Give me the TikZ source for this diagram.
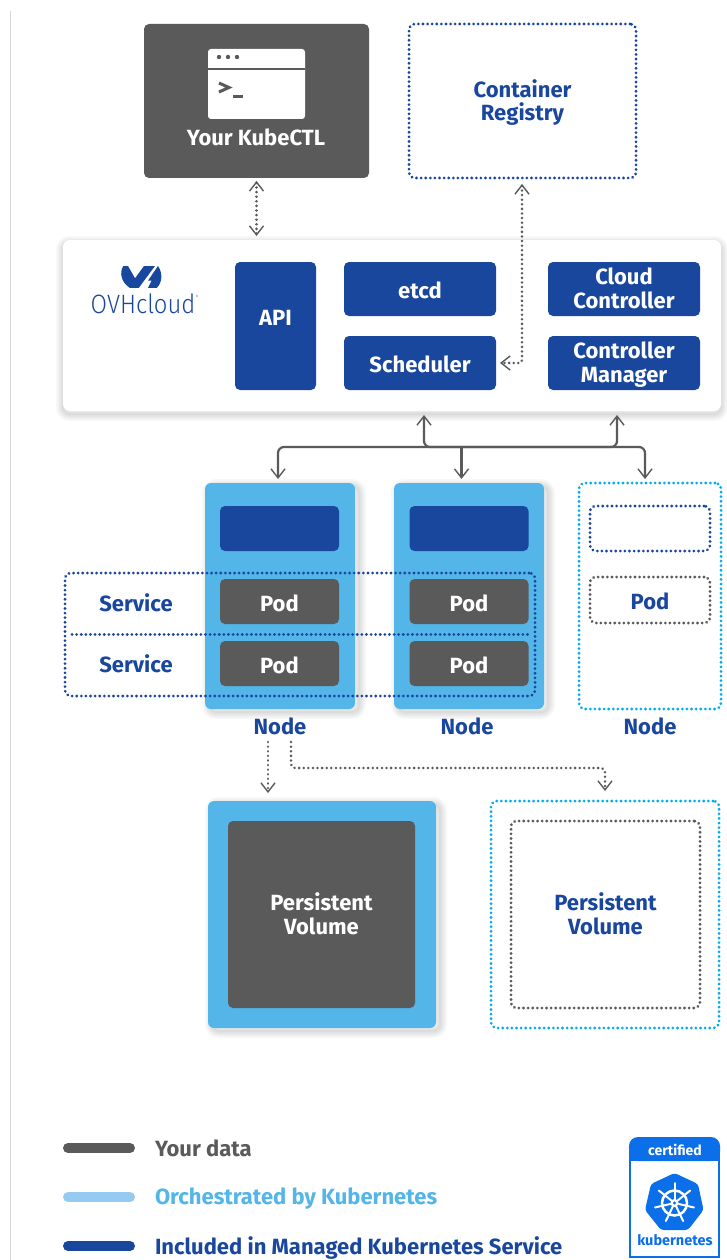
\documentclass[tikz,border=0pt]{standalone}
\usepackage{fontspec}
\setmainfont{Fira Sans}[BoldFont={Fira Sans Bold}]
\newfontfamily\ovhfont{Fira Sans Light}
\usetikzlibrary{arrows.meta, positioning}
\definecolor{ovhBlue}{RGB}{25, 71, 158}
\definecolor{ovhSky}{RGB}{83, 181, 232}
\definecolor{ovhPale}{RGB}{150, 202, 240}
\definecolor{ovhCyan}{RGB}{0, 174, 239}
\definecolor{ovhGray}{RGB}{90, 90, 90}
\definecolor{ovhRule}{RGB}{216, 216, 216}
\definecolor{kubeBlue}{RGB}{10, 111, 232}
\newcommand{\softshadow}[4]{%
    \foreach \w in {2,5,8,11,14} {
        \draw[black, opacity=0.028, line width=\w pt, rounded corners=7pt] (#1,#2) rectangle (#3,#4);
    }%
}

\begin{document}
\begin{tikzpicture}[
        x=1pt, y=-1pt,
        >={Straight Barb[length=9pt, width=14pt, line width=1.4pt]},
        every node/.style={inner sep=0pt, outer sep=0pt},
        label/.style={font=\fontsize{22}{23.5}\selectfont\bfseries, align=center},
        oneline/.style={text height=19.5pt},
        bluebox/.style={rectangle, fill=ovhBlue, text=white, rounded corners=5pt, label},
        graybox/.style={rectangle, fill=ovhGray, text=white, rounded corners=5pt, label},
        skybox/.style={rectangle, fill=ovhSky, rounded corners=6pt},
        dotbox/.style={rectangle, draw=#1, line width=3pt, line cap=round, dash pattern=on 0.1pt off 4.5pt, rounded corners=6pt, text=ovhBlue, label},
        dotline/.style={draw=ovhGray, line width=2.7pt, line cap=round, dash pattern=on 0.1pt off 4.5pt},
        legendbar/.style={line width=10pt, line cap=round}
    ]
        \useasboundingbox (0,0) rectangle (726,1260);
        \fill[white] (0,0) rectangle (726,1260);
        \draw[ovhRule, line width=1pt] (10.5,11) -- (10.5,1260);

        % Top row
        \node[graybox, minimum width=225pt, minimum height=154pt] (kubectl) at (256.5,101) {};
        \node[rectangle, fill=white, rounded corners=3pt, minimum width=97pt, minimum height=70pt] (term) at (256.5,84) {};
        \draw[ovhGray, line width=2pt] (term.west |- 0,69) -- (term.east |- 0,69);
        \foreach \i in {219,228,237} \fill[ovhGray] (\i,57) circle (2.2pt);
        \draw[ovhGray, line width=3pt] (219,83) -- (229,87.5) -- (219,92);
        \draw[ovhGray, line width=3pt] (233,97) -- (243,97);
        \node[label, text=white] (kubetext) at (256,137) {Your KubeCTL};
        \node[dotbox=ovhBlue, minimum width=227pt, minimum height=154pt] (registry) at (522.5,101) {};
        \node[label, text=ovhBlue] (registrytext) at (522.5,102.5) {Container\\Registry};

        % Control plane
        \softshadow{63}{243}{721}{414}
        \node[rectangle, fill=white, rounded corners=7pt, minimum width=658pt, minimum height=171pt] (plane) at (392,325.5) {};
        \node[bluebox, minimum width=81pt, minimum height=128pt] (api) at (275.5,326) {};
        \node[label, text=white] (apitext) at (275.5,318) {API};
        \node[bluebox, oneline, minimum width=152pt, minimum height=54pt] (etcd) at (420,289) {etcd};
        \node[bluebox, oneline, minimum width=152pt, minimum height=54pt, below=20pt of etcd] (sched) {Scheduler};
        \node[bluebox, minimum width=152pt, minimum height=54pt] (cloud) at (624,289) {};
        \node[bluebox, minimum width=152pt, minimum height=54pt, below=20pt of cloud] (manager) {};
        \node[label, text=white] (cloudtext) at (624,288.5) {Cloud\\Controller};
        \node[label, text=white] (managertext) at (624,364.5) {Controller\\Manager};

        % Logo
        \begin{scope}[shift={(118,262)}, x=0.3333pt, y=-0.3333pt]
            \fill[ovhBlue] (16,12) .. controls (4,30) and (8,60) .. (36,78) -- (62,78) -- (111,12) -- (78,12) -- (51,49) -- (30,12) -- cycle;
            \fill[ovhBlue] (120,12) .. controls (133,30) and (135,60) .. (116,78) -- (90,78) -- (101,56) -- (90,56) -- cycle;
        \end{scope}
        \node[font=\ovhfont\fontsize{26.5}{26.5}\selectfont, text=ovhBlue, xscale=0.9, transform shape] (ovhname) at (143,304) {OVHcloud};
        \node[font=\ovhfont\fontsize{4}{4}\selectfont, text=ovhBlue, right=0.5pt of ovhname.north east, yshift=-3pt] (ovhreg) {\textregistered};

        % Nodes
        \softshadow{209}{486}{359}{712}
        \node[skybox, minimum width=150pt, minimum height=226pt] (node1) at (280,596) {};
        \node[bluebox, minimum width=119pt, minimum height=45pt] (kubelet1) at (279.5,528.5) {};
        \node[graybox, oneline, minimum width=119pt, minimum height=45pt] (pod1a) at (279.5,601.5) {Pod};
        \node[graybox, oneline, minimum width=119pt, minimum height=45pt, below=17pt of pod1a] (pod1b) {Pod};
        \softshadow{398}{486}{548}{712}
        \node[skybox, minimum width=150pt, minimum height=226pt] (node2) at (469,596) {};
        \node[bluebox, minimum width=119pt, minimum height=45pt] (kubelet2) at (469,528.5) {};
        \node[graybox, oneline, minimum width=119pt, minimum height=45pt] (pod2a) at (469,601.5) {Pod};
        \node[graybox, oneline, minimum width=119pt, minimum height=45pt, below=17pt of pod2a] (pod2b) {Pod};
        \node[dotbox=ovhCyan, minimum width=142pt, minimum height=226pt] (node3) at (650,596) {};
        \node[dotbox=ovhBlue, minimum width=120pt, minimum height=45pt] (kubelet3) at (650,528.5) {};
        \node[dotbox=ovhGray, oneline, minimum width=120pt, minimum height=46pt] (pod3) at (650,600) {Pod};
        \node[label, text=ovhBlue] (name1) at (280,726) {Node};
        \node[label, text=ovhBlue] (name2) at (467,726) {Node};
        \node[label, text=ovhBlue] (name3) at (650,726) {Node};

        % Services
        \node[dotbox=ovhBlue, minimum width=470pt, minimum height=123pt] (services) at (300,634.5) {};
        \coordinate (divleft) at (72,634);
        \coordinate (divright) at (530,634);
        \draw[draw=ovhBlue, line width=3pt, line cap=round, dash pattern=on 0.1pt off 4.5pt] (divleft) -- (divright);
        \node[label, text=ovhBlue] (service1) at (136,603) {Service};
        \node[label, text=ovhBlue] (service2) at (136,664) {Service};

        % Volumes
        \softshadow{212}{804}{440}{1031}
        \node[skybox, minimum width=228pt, minimum height=227pt] (vol1) at (322,914.5) {};
        \node[graybox, minimum width=187pt, minimum height=187pt] (disk1) at (321.5,914.5) {};
        \node[label, text=white] (disk1text) at (321.5,914) {Persistent\\Volume};
        \node[dotbox=ovhCyan, minimum width=228pt, minimum height=227pt] (vol2) at (605,914.5) {};
        \node[dotbox=ovhGray, minimum width=189pt, minimum height=187pt] (disk2) at (605.5,914.5) {};
        \node[label, text=ovhBlue] (disk2text) at (605.5,914) {Persistent\\Volume};

        % Connectors
        \coordinate (kubeend) at (256.5,181);
        \coordinate (planeend) at (256.5,236);
        \draw[dotline, <->] (kubeend) -- (planeend);
        \coordinate (regend) at (522,184);
        \coordinate (schedend) at (500,363);
        \draw[dotline, <->, rounded corners=3pt] (regend) |- (schedend);
        \coordinate (upleft) at (424,415);
        \coordinate (upright) at (617,415);
        \coordinate (busleft) at (278,447);
        \coordinate (busright) at (645,447);
        \coordinate (busmid) at (461.5,447);
        \coordinate (downleft) at (278,479);
        \coordinate (downmid) at (461.5,479);
        \coordinate (downright) at (645,479);
        \draw[ovhGray, line width=2.2pt, ->, rounded corners=6pt] (busmid) -- (busleft) -- (downleft);
        \draw[ovhGray, line width=2.2pt, ->, rounded corners=6pt] (busmid) -- (busright) -- (downright);
        \draw[ovhGray, line width=2.2pt, ->] (busmid) -- (downmid);
        \draw[ovhGray, line width=2.2pt, <-, rounded corners=6pt] (upleft) |- (busmid);
        \draw[ovhGray, line width=2.2pt, <-, rounded corners=6pt] (upright) |- (busmid);
        \coordinate (volstart) at (268,742);
        \coordinate (volend) at (268,793);
        \draw[dotline, ->] (volstart) -- (volend);
        \coordinate (optstart) at (291,742);
        \coordinate (optend) at (605,791);
        \coordinate (optbend) at (291,768);
        \draw[dotline, ->, rounded corners=4pt] (optstart) -- (optbend) -| (optend);

        % Legend
        \coordinate (bar1a) at (68,1148);
        \coordinate (bar1b) at (130,1148);
        \coordinate (bar2a) at (68,1197);
        \coordinate (bar2b) at (130,1197);
        \coordinate (bar3a) at (68,1246);
        \coordinate (bar3b) at (130,1246);
        \draw[legendbar, ovhGray] (bar1a) -- (bar1b);
        \draw[legendbar, ovhPale] (bar2a) -- (bar2b);
        \draw[legendbar, ovhBlue] (bar3a) -- (bar3b);
        \node[label, text=ovhGray, anchor=west] (legend1) at (155,1148) {Your data};
        \node[label, text=ovhSky, anchor=west] (legend2) at (155,1198.5) {Orchestrated by Kubernetes};
        \node[label, text=ovhBlue, anchor=west] (legend3) at (155,1248.5) {Included in Managed Kubernetes Service};

        % Badge
        \fill[kubeBlue, rounded corners=9pt] (629,1161) -- (629,1137) -- (720,1137) -- (720,1161) -- cycle;
        \fill[kubeBlue] (629,1150) rectangle (720,1161);
        \draw[kubeBlue, line width=2.5pt] (630.2,1160) -- (630.2,1257) -- (718.8,1257) -- (718.8,1160);
        \node[font=\fontsize{14}{14}\selectfont\bfseries, text=white] (certified) at (675,1150) {certified};
        \fill[kubeBlue, rounded corners=3pt] (674.5,1173) -- (698,1184) -- (703.5,1210) -- (688,1230) -- (661,1230) -- (645,1210) -- (651,1184) -- cycle;
        \draw[white, line width=2.5pt] (674.5,1203) circle (12.5pt);
        \foreach \a in {90,141.4,192.9,244.3,295.7,347.1,38.6} {
            \draw[white, line width=2pt, line cap=round] (674.5,1203) -- ++(\a:20pt);
        }
        \fill[white] (674.5,1203) circle (4pt);
        \fill[kubeBlue] (674.5,1203) circle (1.6pt);
        \node[font=\fontsize{14.5}{14.5}\selectfont\bfseries, text=kubeBlue] (kubename) at (675,1240) {kubernetes};
    \end{tikzpicture}
\end{document}
